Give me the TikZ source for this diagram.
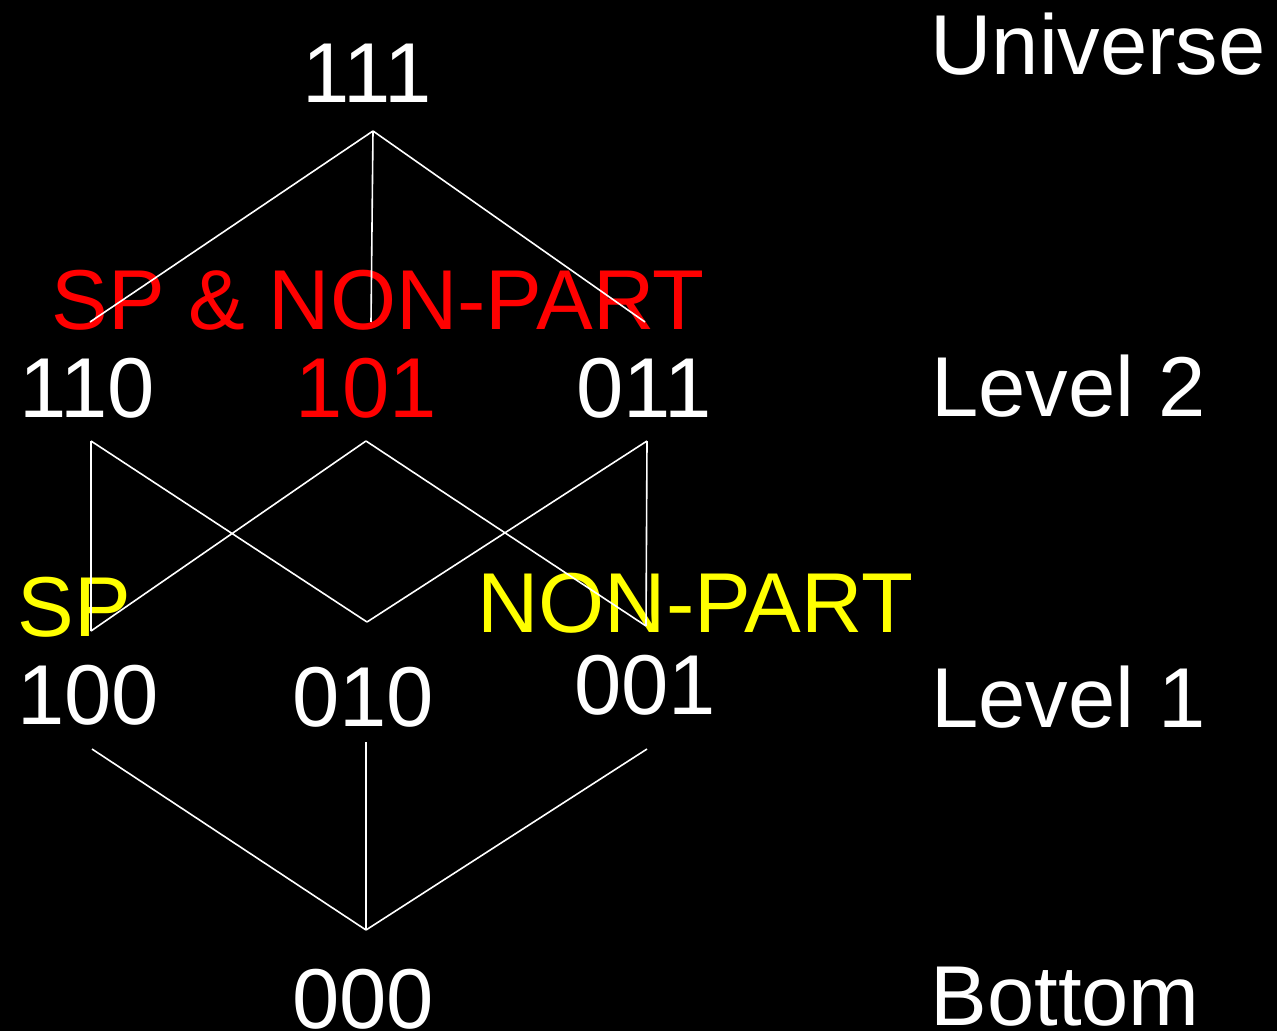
\documentclass[tikz,border=0pt]{standalone}
\usepackage{fontspec}
\setmainfont{Liberation Sans}
\usetikzlibrary{positioning}
\definecolor{rd}{RGB}{255,0,0}
\definecolor{yl}{RGB}{255,255,0}
\tikzset{num/.style={text=white,inner sep=0pt,anchor=base},
 lvl/.style={num,anchor=base west},
 tag/.style={inner sep=0pt,anchor=base west},
 wire/.style={draw=white,line width=.8pt},
 every node/.style={font=\fontsize{42.5}{51}\selectfont}}

\begin{document}
\begin{tikzpicture}[x=0.5pt,y=-0.5pt]
\fill[black] (0,0) rectangle (1277,1031);
\useasboundingbox (0,0) rectangle (1277,1031);
% lattice labels
\node[num] (n111) at (367,103) {111};
\node[num] (n110) at (87,417) {110};
\node[num,text=rd] (n101) at (366,417) {101};
\node[num] (n011) at (644,417) {011};
\node[num] (n100) at (88,724) {100};
\node[num] (n010) at (363,726) {010};
\node[num] (n001) at (645,714) {001};
\node[num] (n000) at (363,1028) {000};
% levels
\node[lvl] (univ) at (930,75) {Universe};
\node[lvl] (lev2) at (931,416) {Level 2};
\node[lvl] (lev1) at (931,727) {Level 1};
\node[lvl] (bot) at (930,1025) {Bottom};
% marks
\node[tag,text=rd] (spnp) at (51,330) {SP \& NON-PART};
\node[tag,text=yl] (sp) at (17,636) {SP};
\node[tag,text=yl] (np) at (477,632) {NON-PART};
% ends of the wires
\coordinate (d111) at (373,131);
\coordinate (u110) at (90,322); \coordinate (u101) at (371,322); \coordinate (u011) at (645,322);
\coordinate (d110) at (91,441); \coordinate (d101) at (366,441); \coordinate (d011) at (647,441);
\coordinate (u100) at (91,631); \coordinate (u010) at (367,622); \coordinate (u001) at (646,626);
\coordinate (d100) at (92,749); \coordinate (d010) at (366,742); \coordinate (d001) at (647,749);
\coordinate (u000) at (366,930);
\draw[wire] (d111)--(u110) (d111)--(u101) (d111)--(u011);
\draw[wire] (d110)--(u100) (d110)--(u010) (d101)--(u100) (d101)--(u001) (d011)--(u010) (d011)--(u001);
\draw[wire] (d100)--(u000) (d010)--(u000) (d001)--(u000);
\end{tikzpicture}
\end{document}
